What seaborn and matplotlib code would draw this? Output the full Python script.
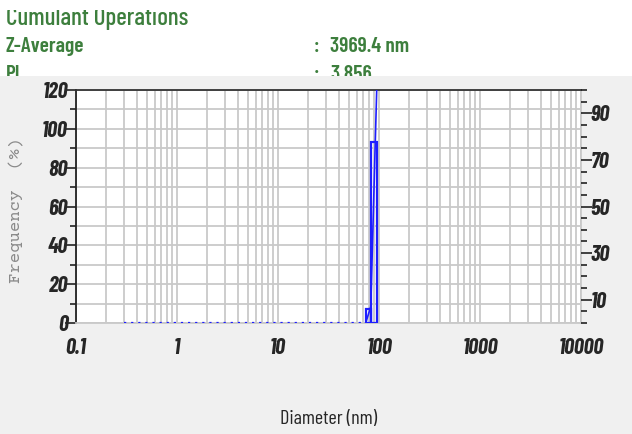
import numpy as np
import pandas as pd
import matplotlib
matplotlib.use("Agg")
import matplotlib.pyplot as plt
import matplotlib.patches as mpatches
from matplotlib import font_manager
import seaborn as sns

# ---- data ----
zero_diam = [0.3, 73.8]          # dotted zero-frequency trace
zero_freq = [0, 0]
bin_left = [73.8, 82.9]          # histogram bins (nm)
bin_right = [82.9, 94.9]
bin_freq = [7, 93]               # frequency (%)
cum_diam = [73.8, 82.9, 94.9]    # cumulative curve (right axis)
cum_pct = [0, 7, 100]
header_labels = ["Z-Average", "PI"]
header_values = ["3969.4 nm", "3.856"]
left_ticks = [0, 20, 40, 60, 80, 100, 120]
right_labels = [10, 30, 50, 70, 90]
x_ticks = [0.1, 1, 10, 100, 1000, 10000]
x_ticklabels = ["0.1", "1", "10", "100", "1000", "10000"]

sns.set_style("white")
avail = {f.name for f in font_manager.fontManager.ttflist}


def pick(names, default):
    for n in names:
        if n in avail:
            return n
    return default


narrow = pick(["Barlow Condensed", "Asap Condensed", "Archivo Narrow"], "Liberation Sans")
hdr = pick(["Barlow Condensed", "Asap Condensed", "Archivo Narrow"], "Liberation Sans")
mono = pick(["Courier Prime", "Cutive Mono", "Nimbus Mono PS", "FreeMono",
             "Liberation Mono", "DejaVu Sans Mono"], "DejaVu Sans Mono")
plt.rcParams["font.family"] = [narrow, "DejaVu Sans"]

W, H = 632, 434
fig = plt.figure(figsize=(W / 100, H / 100), dpi=100, facecolor="white")

green = "#3d7f3d"
fig.text(6 / W, 1 - 25 / H, "Cumulant Operations", fontsize=18, color=green,
         family=[hdr], fontweight="medium", va="baseline", zorder=1)
# clipping band at the very top (screenshot edge)
fig.patches.append(mpatches.Rectangle((0, 1 - 10 / H), 1, 10 / H, transform=fig.transFigure,
                                      facecolor="white", edgecolor="none", zorder=2))
for i, (lab, val) in enumerate(zip(header_labels, header_values)):
    yb = 1 - (52 + 28 * i) / H
    fig.text(6 / W, yb, lab, fontsize=15.5, color=green, family=[hdr],
             fontweight="semibold", va="baseline", zorder=1)
    fig.text(314 / W, yb, ":", fontsize=15.5, color=green, family=[hdr],
             fontweight="semibold", va="baseline", zorder=1)
    fig.text(330 / W, yb, val, fontsize=15.5, color=green, family=[hdr],
             fontweight="semibold", va="baseline", zorder=1)

panel = mpatches.Rectangle((0, 0), 1, 1 - 76 / H, transform=fig.transFigure,
                           facecolor="#f0f0f0", edgecolor="none", zorder=2)
fig.patches.append(panel)

ax = fig.add_axes([76 / W, 1 - 323 / H, (581 - 76) / W, (323 - 90) / H])
ax.set_zorder(3)
ax.set_facecolor("white")

blue = "#1e1eff"
df0 = pd.DataFrame({"d": zero_diam, "f": zero_freq})
sns.lineplot(data=df0, x="d", y="f", ax=ax, color=blue, linestyle=(0, (1, 2.2)),
             linewidth=1.6, zorder=4)
ax.bar(bin_left, bin_freq, width=np.array(bin_right) - np.array(bin_left),
       align="edge", fill=False, edgecolor=blue, linewidth=1.6, zorder=4)

ax.set_xscale("log")
ax.set_xlim(0.1, 10000)
ax.set_ylim(0, 120)

grid_c = "#c9c9c9"
ax.xaxis.set_major_locator(matplotlib.ticker.FixedLocator(x_ticks))
ax.xaxis.set_minor_locator(matplotlib.ticker.LogLocator(base=10, subs=np.arange(2, 10)))
ax.set_xticklabels(x_ticklabels)
ax.xaxis.set_minor_formatter(matplotlib.ticker.NullFormatter())
ax.set_yticks(left_ticks)
ax.set_yticks(np.arange(10, 120, 20), minor=True)
ax.grid(True, which="both", axis="x", color=grid_c, linewidth=1.3)
ax.grid(True, which="both", axis="y", color=grid_c, linewidth=1.3)
ax.set_axisbelow(True)

ax.tick_params(axis="x", which="major", direction="out", length=9, width=1.2,
               color="#333333", pad=2)
ax.tick_params(axis="x", which="minor", direction="out", length=4, width=1.2,
               color="#555555")
ax.tick_params(axis="y", which="major", direction="out", length=8, width=1.2,
               color="#222222", pad=-2)
ax.tick_params(axis="y", which="minor", direction="out", length=4, width=1.2,
               color="#222222")
for lbl in ax.get_xticklabels() + ax.get_yticklabels():
    lbl.set_fontsize(16)
    lbl.set_fontweight("bold")
    lbl.set_fontstyle("italic")
    lbl.set_family([narrow])

for s, c in (("left", "#222222"), ("top", "#333333"), ("bottom", grid_c), ("right", grid_c)):
    ax.spines[s].set_visible(True)
    ax.spines[s].set_color(c)
    ax.spines[s].set_linewidth(1.3)

ax.set_xlabel("Diameter (nm)", fontsize=14.5, fontweight="normal",
              family=[narrow], labelpad=37)
ax.set_ylabel("")
fig.text(16 / W, 1 - 210 / H, "Frequency  (%)", fontsize=12.5, color="#8a8a8a",
         family=[mono], rotation=90, ha="center", va="center", zorder=5)

ax2 = ax.twinx()
ax2.set_zorder(4)
ax2.patch.set_visible(False)
dfc = pd.DataFrame({"d": cum_diam, "c": cum_pct})
sns.lineplot(data=dfc, x="d", y="c", ax=ax2, color=blue, linewidth=1.2)
ax2.set_ylim(0, 100)
ax2.set_xlim(0.1, 10000)
ax2.set_yticks(right_labels)
ax2.set_yticks(np.arange(0, 101, 5), minor=True)
ax2.set_ylabel("")
ax2.tick_params(axis="y", which="major", direction="out", length=8, width=1.2,
                color="#222222", pad=-1)
ax2.tick_params(axis="y", which="minor", direction="out", length=4, width=1.2,
                color="#222222")
for lbl in ax2.get_yticklabels():
    lbl.set_fontsize(16)
    lbl.set_fontweight("bold")
    lbl.set_fontstyle("italic")
    lbl.set_family([narrow])
for s in ax2.spines.values():
    s.set_visible(False)

fig.savefig("out.png", dpi=100, facecolor="white")
